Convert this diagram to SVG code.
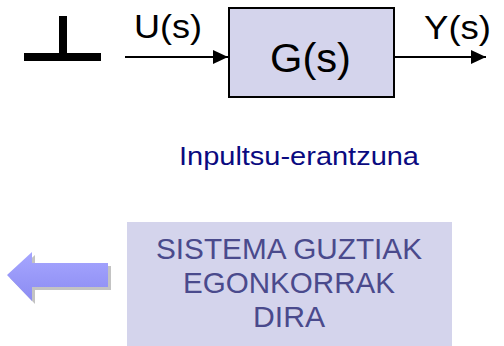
<svg xmlns="http://www.w3.org/2000/svg" width="504" height="346" viewBox="0 0 504 346">
  <defs>
    <style>
      .lbl { font-family: "Liberation Sans", Arial, sans-serif; fill: #000; }
      .wire { stroke: #000; stroke-width: 2; fill: none; }
      .blk { fill: #d4d4ec; }
    </style>
    <marker id="head" viewBox="0 0 15 14" refX="15" refY="7" markerWidth="15" markerHeight="14" markerUnits="userSpaceOnUse" orient="auto">
      <path d="M0,0 L15,7 L0,14 Z" fill="#000"/>
    </marker>
    <linearGradient id="arrowFill" x1="0" y1="0" x2="0" y2="1">
      <stop offset="0" stop-color="#a6a6ff"/>
      <stop offset="1" stop-color="#8c8cf2"/>
    </linearGradient>
  </defs>

  <rect width="504" height="346" fill="#fff"/>

  <!-- impulse input symbol -->
  <g id="impulse">
    <rect x="24" y="53" width="77" height="8" fill="#000"/>
    <rect x="59" y="16" width="8" height="40" fill="#000"/>
  </g>

  <!-- connectors -->
  <g id="connectors">
    <line class="wire" x1="125" y1="57" x2="228" y2="57" marker-end="url(#head)"/>
    <line class="wire" x1="394" y1="57" x2="486" y2="57" marker-end="url(#head)"/>
    <text class="lbl" x="134" y="38" font-size="34" textLength="68" lengthAdjust="spacingAndGlyphs">U(s)</text>
    <text class="lbl" x="424" y="39" font-size="34" textLength="67" lengthAdjust="spacingAndGlyphs">Y(s)</text>
  </g>

  <!-- plant block -->
  <g id="plant">
    <rect class="blk" x="229" y="8" width="165" height="89" stroke="#000" stroke-width="2"/>
    <text class="lbl" x="270" y="72" font-size="40" textLength="81" lengthAdjust="spacingAndGlyphs">G(s)</text>
  </g>

  <!-- caption -->
  <g id="caption">
    <text x="179" y="165" font-family="Liberation Sans, Arial, sans-serif" font-size="25" fill="#0a0a80" textLength="240" lengthAdjust="spacingAndGlyphs">Inpultsu-erantzuna</text>
  </g>

  <!-- conclusion box -->
  <g id="conclusion">
    <rect class="blk" x="127" y="222" width="325" height="124"/>
    <g font-family="Liberation Sans, Arial, sans-serif" font-size="29" fill="#4a4a8c">
      <text x="156" y="259" textLength="266" lengthAdjust="spacingAndGlyphs">SISTEMA GUZTIAK</text>
      <text x="183" y="293" textLength="212" lengthAdjust="spacingAndGlyphs">EGONKORRAK</text>
      <text x="253" y="327" textLength="72" lengthAdjust="spacingAndGlyphs">DIRA</text>
    </g>
  </g>

  <!-- left-pointing block arrow with drop shadow -->
  <g id="back-arrow">
    <path d="M10,278 L35,255 L35,266 L111,266 L111,290 L35,290 L35,304 Z" fill="#b4b4b4" opacity="0.8"/>
    <path d="M7,275 L32,252 L32,263 L108,263 L108,287 L32,287 L32,301 Z" fill="url(#arrowFill)"/>
  </g>
</svg>
